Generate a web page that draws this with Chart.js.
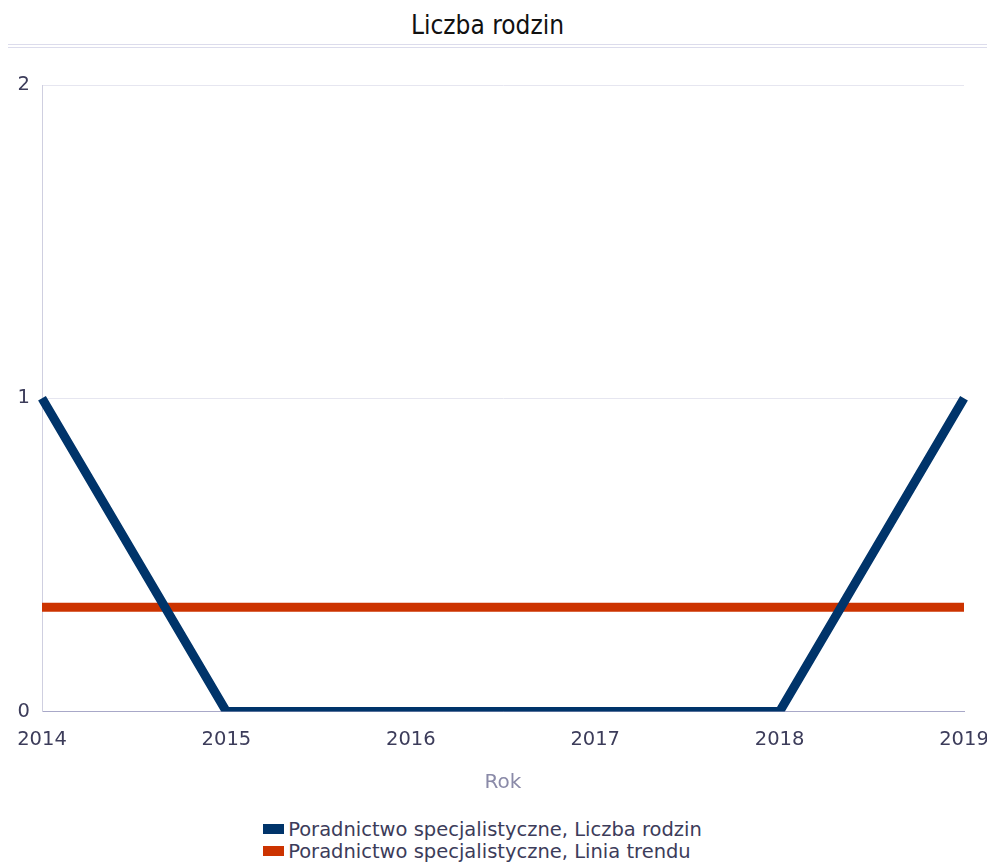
<!DOCTYPE html>
<html>
<head>
<meta charset="utf-8">
<script src="https://cdn.jsdelivr.net/npm/chart.js@4.4.1/dist/chart.umd.min.js"></script>
<style>
  body { margin: 0; background: #fff; font-family: "DejaVu Sans", sans-serif; }
  #title {
    margin-left: 8px;
    padding-right: 20px;
    height: 44px;
    line-height: 50px;
    text-align: center;
    font-family: "DejaVu Sans Condensed", "DejaVu Sans", sans-serif;
    font-size: 26px;
    color: #111;
    border-bottom: 4px double #dcdcec;
  }
  #wrap { position: relative; width: 987px; height: 747px; }
  #legend { text-align: center; margin-top: 24px; padding-right: 22px; }
  #legend .inner { display: inline-block; text-align: left; }
  #legend .item { font-size: 19.5px; color: #3c3c5a; line-height: 22px; white-space: nowrap; }
  #legend .box { display: inline-block; width: 21px; height: 10px; margin-right: 4px; vertical-align: 2px; }
</style>
</head>
<body>
<div id="title">Liczba rodzin</div>
<div id="wrap"><canvas id="chart"></canvas></div>
<div id="legend"><div class="inner" id="legendInner"></div></div>
<script>
// data
const years = ["2014", "2015", "2016", "2017", "2018", "2019"];
const familyCount = [1, 0, 0, 0, 0, 1];
const trendLine = [0.333, 0.333, 0.333, 0.333, 0.333, 0.333];
const seriesNames = [
  "Poradnictwo specjalistyczne, Liczba rodzin",
  "Poradnictwo specjalistyczne, Linia trendu"
];
const seriesColors = ["#00346a", "#cc3300"];

const textColor = "#3c3c5a";

const ctx = document.getElementById("chart").getContext("2d");
const chart = new Chart(ctx, {
  type: "line",
  data: {
    labels: years,
    datasets: [
      {
        label: seriesNames[0],
        data: familyCount,
        borderColor: seriesColors[0],
        backgroundColor: seriesColors[0],
        borderWidth: 9,
        pointRadius: 0,
        tension: 0
      },
      {
        label: seriesNames[1],
        data: trendLine,
        borderColor: seriesColors[1],
        backgroundColor: seriesColors[1],
        borderWidth: 9,
        pointRadius: 0,
        tension: 0
      }
    ]
  },
  options: {
    responsive: true,
    maintainAspectRatio: false,
    animation: false,
    layout: { padding: { top: 37, right: 0, left: 0, bottom: 0 } },
    plugins: {
      legend: { display: false },
      title: { display: false },
      tooltip: { enabled: false }
    },
    scales: {
      x: {
        offset: false,
        grid: { display: false, drawTicks: false },
        border: { color: "#a8a8c8", width: 1 },
        ticks: {
          color: textColor,
          font: { family: "DejaVu Sans", size: 19.5 },
          padding: 17,
          maxRotation: 0
        },
        title: {
          display: true,
          text: "Rok",
          color: "#8a8aa8",
          font: { family: "DejaVu Sans", size: 20 },
          padding: { top: 2, bottom: 0 }
        },
        // let the last label run to the edge, as in the original
        afterFit: (scale) => { scale.paddingRight = 23; scale.paddingLeft = 0; }
      },
      y: {
        min: 0,
        max: 2,
        grid: { color: "#e6e6f0", drawTicks: false },
        border: { color: "#cfcfe0", width: 1 },
        ticks: {
          stepSize: 1,
          color: textColor,
          font: { family: "DejaVu Sans", size: 19.5 },
          padding: 12
        },
        afterFit: (scale) => { scale.width = 42; }
      }
    }
  }
});

// legend drawn as two rows, like the original
const inner = document.getElementById("legendInner");
seriesNames.forEach((name, i) => {
  const row = document.createElement("div");
  row.className = "item";
  const box = document.createElement("span");
  box.className = "box";
  box.style.background = seriesColors[i];
  row.appendChild(box);
  row.appendChild(document.createTextNode(name));
  inner.appendChild(row);
});
</script>
</body>
</html>
